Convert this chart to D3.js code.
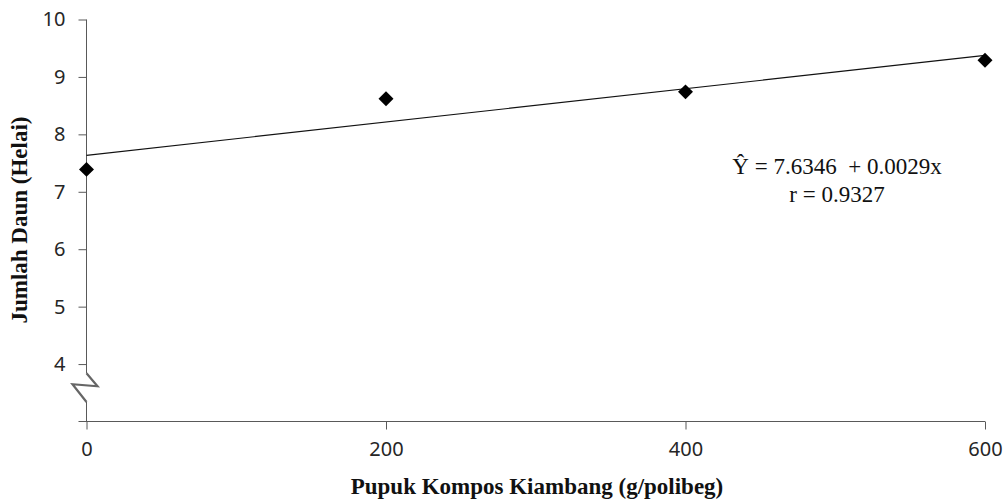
<!DOCTYPE html>
<html><head><meta charset="utf-8">
<script src="https://cdn.jsdelivr.net/npm/d3@7"></script>
<style>body{margin:0;background:#fff}svg{display:block}</style>
</head><body>
<script>
const doses = [0, 200, 400, 600];
const leaves = [7.39, 8.62, 8.74, 9.29];
const trendX = [0, 600];
const trendY = [7.6346, 9.3746];
const yTicks = [4, 5, 6, 7, 8, 9, 10];
const xTicks = [0, 200, 400, 600];
const equationLines = ["Ŷ = 7.6346  + 0.0029x", "r = 0.9327"];

const W = 1008, H = 501;
const svg = d3.select("body").append("svg").attr("width", W).attr("height", H);
const x = d3.scaleLinear().domain([0, 600]).range([86.5, 985]);
const y = d3.scaleLinear().domain([3, 10]).range([421.5, 19.5]);
const axisColor = "#595959";
const tickFont = "'Noto Sans', 'Open Sans', sans-serif";
const serif = "'Liberation Serif', 'Times New Roman', serif";

// y axis
const yAx = svg.append("g").attr("transform", `translate(${x(0)},0)`)
  .call(d3.axisLeft(y).tickValues(yTicks).tickFormat(d3.format("d")).tickSize(8).tickPadding(13).tickSizeOuter(0));
yAx.select(".domain").attr("stroke", axisColor).attr("d", `M0,${y(10)}V${y(3)}`);
yAx.selectAll(".tick line").attr("stroke", axisColor);
yAx.selectAll(".tick text").attr("fill", "#262626").style("font-family", tickFont).style("font-size", "20px");

// x axis
const xAx = svg.append("g").attr("transform", `translate(0,${y(3)})`)
  .call(d3.axisBottom(x).tickValues(xTicks).tickFormat(d3.format("d")).tickSize(8).tickPadding(12).tickSizeOuter(0));
xAx.select(".domain").attr("stroke", axisColor).attr("d", `M${x(0)-8},0H${x(600)}`);
xAx.selectAll(".tick line").attr("stroke", axisColor);
xAx.selectAll(".tick text").attr("fill", "#262626").style("font-family", tickFont).style("font-size", "20px");

// axis break
const bTop = y(3.84), bBot = y(3.34), ax0 = x(0);
svg.append("rect").attr("x", ax0 - 3).attr("y", bTop).attr("width", 6).attr("height", bBot - bTop).attr("fill", "#fff");
svg.append("path")
  .attr("d", `M${ax0},${bTop}L${ax0 + 11},${bTop + 13}L${ax0 - 14},${bTop + 11}L${ax0},${bBot}`)
  .attr("fill", "none").attr("stroke", "#666").attr("stroke-width", 2.2).attr("stroke-linejoin", "miter");

// trend line
svg.append("line")
  .attr("x1", x(trendX[0])).attr("y1", y(trendY[0]))
  .attr("x2", x(trendX[1])).attr("y2", y(trendY[1]))
  .attr("stroke", "#111").attr("stroke-width", 1.2);

// points
const sym = d3.symbol().type(d3.symbolSquare).size(112);
svg.selectAll(".pt").data(doses).enter().append("path")
  .attr("d", sym)
  .attr("transform", (d, i) => `translate(${x(d)},${y(leaves[i])}) rotate(45)`)
  .attr("fill", "#000");

// equation
svg.selectAll(".eq").data(equationLines).enter().append("text")
  .attr("x", 837).attr("y", (d, i) => 174 + i * 28)
  .attr("text-anchor", "middle")
  .style("font-family", serif)
  .style("font-size", "23px").style("white-space", "pre").attr("fill", "#111")
  .text(d => d);

// axis titles
svg.append("text").attr("x", 537).attr("y", 494).attr("text-anchor", "middle")
  .style("font-family", serif)
  .style("font-size", "23px").style("font-weight", "bold").attr("fill", "#111")
  .text("Pupuk Kompos Kiambang (g/polibeg)");
svg.append("text").attr("transform", "translate(27,220) rotate(-90)").attr("text-anchor", "middle")
  .style("font-family", serif)
  .style("font-size", "23px").style("font-weight", "bold").attr("fill", "#111")
  .text("Jumlah Daun (Helai)");
</script>
</body></html>
